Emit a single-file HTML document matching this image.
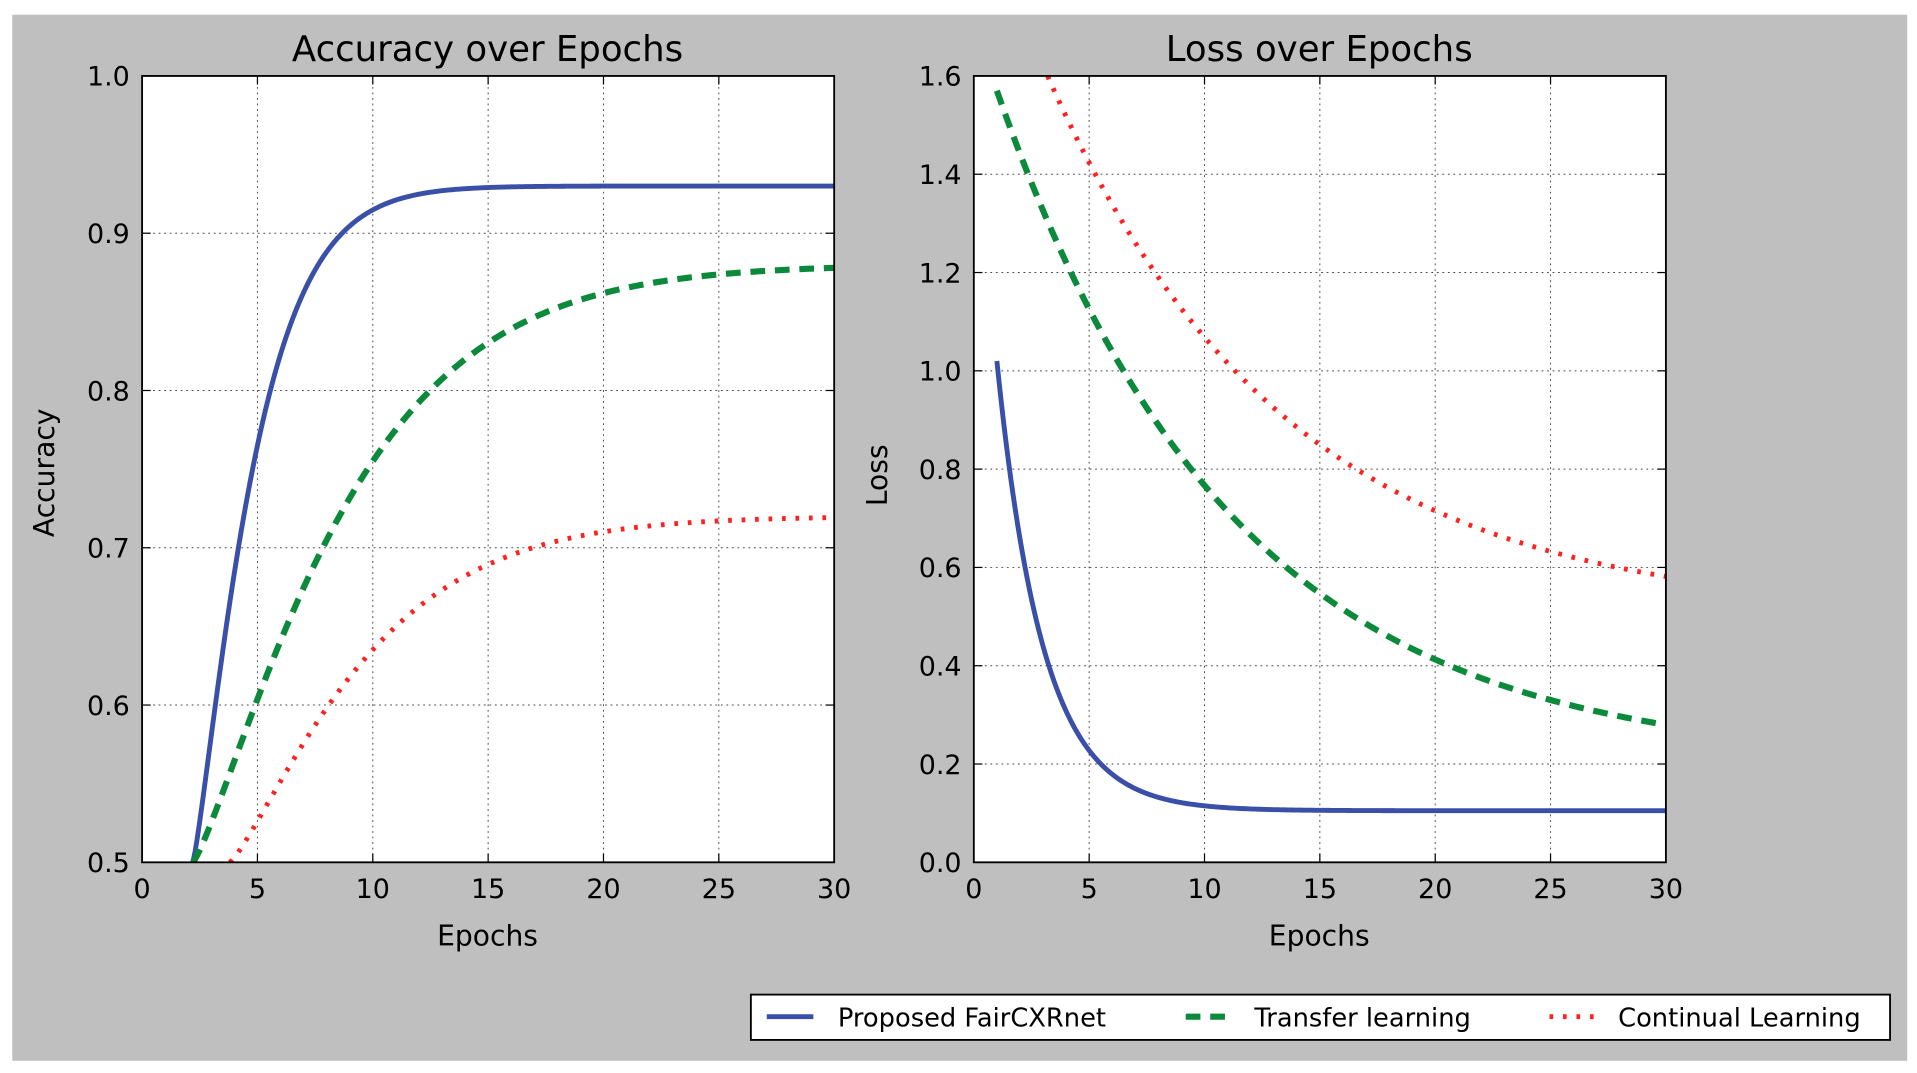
<!DOCTYPE html>
<html><head><meta charset="utf-8"><style>
html,body{margin:0;padding:0;background:#fff;}
svg{display:block;}
text{font-family:"DejaVu Sans","Liberation Sans",sans-serif;fill:#000;}
</style></head><body>
<svg id="s" width="1917" height="1073" viewBox="0 0 1565 876" preserveAspectRatio="none" xmlns="http://www.w3.org/2000/svg">
<rect x="0" y="0" width="1565" height="876" fill="#fff"/>
<rect x="10" y="12" width="1547" height="854" fill="#bfbfbf"/>
<defs>
<clipPath id="c1"><rect x="116" y="62" width="565" height="642"/></clipPath>
<clipPath id="c2"><rect x="795" y="62" width="565" height="642"/></clipPath>
</defs>
<rect x="116" y="62" width="565" height="642" fill="#fff"/>
<rect x="795" y="62" width="565" height="642" fill="#fff"/>
<g id="grid" stroke="#000" stroke-width="0.8" stroke-dasharray="1.5,3" opacity="0.7"></g>
<g id="series"></g>
<rect x="116" y="62" width="565" height="642" fill="none" stroke="#000" stroke-width="1.5"/>
<rect x="795" y="62" width="565" height="642" fill="none" stroke="#000" stroke-width="1.5"/>
<g id="labels" font-size="22"></g>
<text x="398" y="50" font-size="29" text-anchor="middle">Accuracy over Epochs</text>
<text x="1077" y="50" font-size="29" text-anchor="middle">Loss over Epochs</text>
<text x="398" y="772" font-size="23" text-anchor="middle">Epochs</text>
<text x="1077" y="772" font-size="23" text-anchor="middle">Epochs</text>
<text transform="translate(44,386) rotate(-90)" font-size="23" text-anchor="middle">Accuracy</text>
<text transform="translate(724,388) rotate(-90)" font-size="23" text-anchor="middle">Loss</text>
<rect x="613" y="812" width="930" height="37" fill="#fff" stroke="#000" stroke-width="1.5"/>
<line x1="626" y1="830" x2="664" y2="830" stroke="#3a4fa8" stroke-width="4"/>
<line x1="968" y1="830" x2="1006" y2="830" stroke="#0a8a3a" stroke-width="5" stroke-dasharray="12,8"/>
<line x1="1265" y1="830" x2="1303" y2="830" stroke="#ff2020" stroke-width="4" stroke-dasharray="3,8"/>
<text x="684" y="838" font-size="21">Proposed FairCXRnet</text>
<text x="1024" y="838" font-size="21">Transfer learning</text>
<text x="1321" y="838" font-size="21">Continual Learning</text>
</svg>
<script>
const NS="http://www.w3.org/2000/svg";
const g=document.getElementById('grid'),lab=document.getElementById('labels'),ser=document.getElementById('series');
function el(p,t,a,txt){const e=document.createElementNS(NS,t);for(const k in a)e.setAttribute(k,a[k]);if(txt!==undefined)e.textContent=txt;p.appendChild(e);return e;}
const panels=[{x0:116,ymin:0.5,ymax:1.0,yt:[0.5,0.6,0.7,0.8,0.9,1.0],clip:'c1'},{x0:795,ymin:0,ymax:1.6,yt:[0,0.2,0.4,0.6,0.8,1.0,1.2,1.4,1.6],clip:'c2'}];
panels.forEach(p=>{
 const X=e=>p.x0+e*565/30, Y=v=>704-(v-p.ymin)*642/(p.ymax-p.ymin);
 p.X=X;p.Y=Y;
 for(let e=0;e<=30;e+=5){const x=X(e);
  if(e>0&&e<30)el(g,'line',{x1:x,y1:62,x2:x,y2:704});
  el(lab,'line',{x1:x,y1:704,x2:x,y2:697,stroke:'#000','stroke-width':1});
  el(lab,'line',{x1:x,y1:62,x2:x,y2:69,stroke:'#000','stroke-width':1});
  el(lab,'text',{x:x,y:733,'text-anchor':'middle'},String(e));}
 p.yt.forEach(v=>{const y=Y(v);
  if(y>63&&y<703)el(g,'line',{x1:p.x0,y1:y,x2:p.x0+565,y2:y});
  el(lab,'line',{x1:p.x0,y1:y,x2:p.x0+7,y2:y,stroke:'#000','stroke-width':1});
  el(lab,'line',{x1:p.x0+565,y1:y,x2:p.x0+558,y2:y,stroke:'#000','stroke-width':1});
  el(lab,'text',{x:p.x0-10,y:y+8,'text-anchor':'end'},v.toFixed(1));});
});
function path(p,f,e0,e1){let d='';for(let e=e0;e<=e1+1e-9;e+=0.1){d+=(d?'L':'M')+p.X(e).toFixed(2)+','+p.Y(f(e)).toFixed(2);}return d;}
const A=panels[0],L=panels[1];
const styles={b:{stroke:'#3a4fa8','stroke-width':4},g:{stroke:'#0a8a3a','stroke-width':5,'stroke-dasharray':'12,8'},r:{stroke:'#ff2020','stroke-width':4,'stroke-dasharray':'3,8'}};
function add(p,f,e0,e1,s){const gg=el(ser,'g',{'clip-path':'url(#'+p.clip+')'});const a=Object.assign({d:path(p,f,e0,e1),fill:'none'},styles[s]);el(gg,'path',a);}
const sx=(e,e0,k,pw)=>Math.exp(-Math.pow(Math.max(0,e-e0)/k,pw));
add(A,e=>0.93-0.43*sx(e,2.2,2.9,1.22),2.2,30,'b');
add(A,e=>0.88-0.38*sx(e,2.2,7.15,1.22),2.2,30,'g');
add(A,e=>0.72-0.22*sx(e,3.8,6.45,1.23),3.8,30,'r');
add(L,e=>0.105+0.915*Math.exp(-(e-1)/1.99),1,30,'b');
add(L,e=>0.2+1.37*Math.exp(-(e-1)/10.2),1,30,'g');
add(L,e=>0.5+1.1*Math.exp(-(e-3.2)/10.3),3.2,30,'r');
</script>
</body></html>
